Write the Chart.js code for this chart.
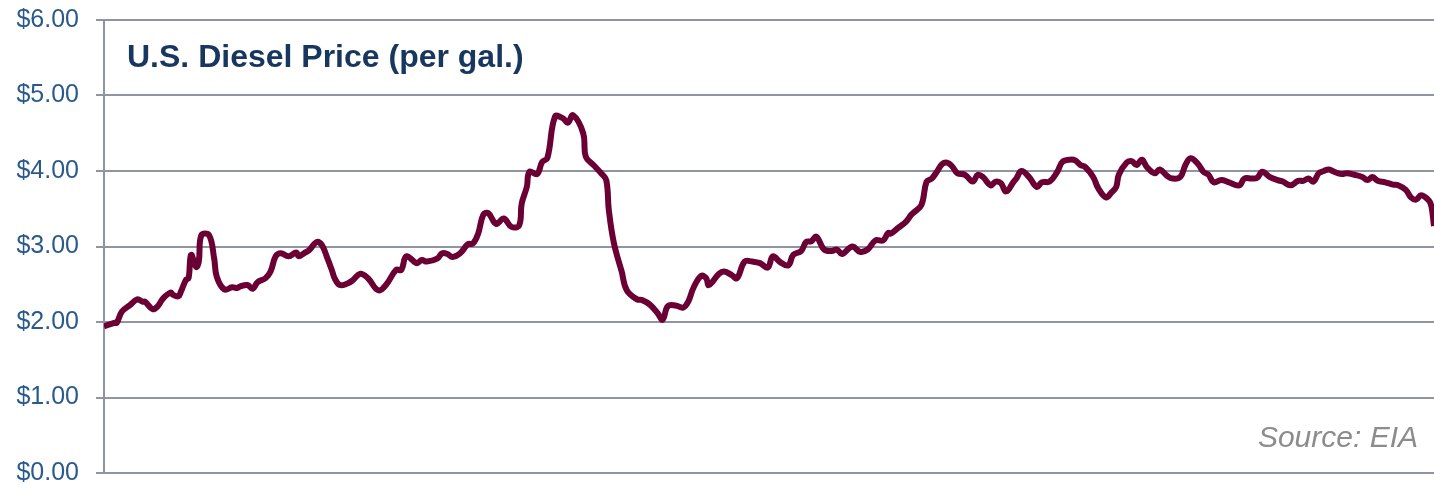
<!DOCTYPE html>
<html lang="en">
<head>
    <meta charset="UTF-8">
    <title>U.S. Diesel Price</title>
    <style>
        html, body { margin: 0; padding: 0; background: #fff; }
    </style>
</head>
<body>
    <canvas id="chartId" width="1434" height="488"></canvas>
    <script src="https://cdn.jsdelivr.net/npm/chart.js@4/dist/chart.umd.min.js"></script>
    <script>
        // weeks since the first week of Jan 2005
        const weeks = [
            0, 4, 5, 7, 10, 13, 15, 16, 19, 21,
            23, 26, 27, 29, 30, 32, 33, 34, 36, 37,
            38, 41, 43, 44, 47, 50, 52, 53, 56, 58,
            60, 63, 65, 67, 69, 72, 75, 76, 78, 80,
            83, 85, 87, 89, 90, 92, 95, 97, 100, 103,
            107, 110, 114, 116, 118, 122, 124, 126, 130, 132,
            134, 136, 139, 142, 144, 146, 148, 150, 153, 156,
            159, 162, 163, 165, 166, 169, 171, 173, 176, 179,
            181, 183, 187, 188, 191, 194, 196, 197, 199, 202,
            204, 208, 210, 213, 216, 218, 220, 223, 226, 228,
            230, 233, 235, 236, 240, 242, 245, 247, 250, 253,
            256, 259, 261, 264, 267, 269, 272, 274, 276, 278,
            281, 284, 286, 288, 292, 295, 298, 301, 304, 306,
            307, 310, 313, 315, 316, 319, 321, 323, 325, 327,
            329, 331, 333, 336, 339, 341, 343, 346, 348, 350,
            352, 355, 356, 358, 361, 364, 366, 369, 372, 374,
            377, 379, 381, 383, 386, 388, 391, 393, 395, 396,
            399, 401, 403, 405, 407, 410, 412, 415, 417, 420,
            422, 424, 427, 429, 431, 433, 436, 439, 443, 445,
            448, 450, 452, 455, 458, 460, 463, 466, 468, 470,
            472, 474, 476, 478, 480, 483, 485, 488, 491, 493,
            495, 497, 500, 503, 505, 508, 510, 512, 514, 517,
            518, 519
        ];

        const prices = [
            1.94, 1.99, 1.99, 2.14, 2.22, 2.30, 2.27, 2.27, 2.17, 2.21,
            2.31, 2.39, 2.36, 2.34, 2.40, 2.56, 2.58, 2.89, 2.73, 2.80,
            3.15, 3.15, 2.84, 2.60, 2.43, 2.46, 2.45, 2.47, 2.49, 2.44,
            2.53, 2.58, 2.67, 2.87, 2.91, 2.87, 2.92, 2.87, 2.91, 2.95,
            3.06, 3.02, 2.86, 2.68, 2.58, 2.49, 2.51, 2.55, 2.64, 2.58,
            2.42, 2.49, 2.69, 2.69, 2.87, 2.78, 2.82, 2.80, 2.84, 2.91,
            2.90, 2.86, 2.91, 3.03, 3.04, 3.17, 3.42, 3.44, 3.30, 3.37,
            3.26, 3.28, 3.57, 3.79, 3.99, 3.96, 4.12, 4.17, 4.72, 4.70,
            4.64, 4.74, 4.50, 4.19, 4.08, 3.97, 3.88, 3.48, 3.04, 2.67,
            2.42, 2.30, 2.29, 2.23, 2.12, 2.03, 2.21, 2.22, 2.19, 2.27,
            2.45, 2.61, 2.58, 2.49, 2.64, 2.67, 2.62, 2.58, 2.80, 2.80,
            2.78, 2.72, 2.87, 2.79, 2.75, 2.89, 2.94, 3.06, 3.07, 3.13,
            2.96, 2.94, 2.96, 2.90, 3.00, 2.93, 2.96, 3.08, 3.08, 3.18,
            3.17, 3.25, 3.33, 3.42, 3.45, 3.55, 3.86, 3.90, 3.99, 4.09,
            4.11, 4.06, 3.97, 3.95, 3.86, 3.95, 3.92, 3.81, 3.86, 3.84,
            3.73, 3.86, 3.90, 4.00, 3.92, 3.79, 3.85, 3.86, 3.99, 4.12,
            4.15, 4.14, 4.08, 4.05, 3.92, 3.77, 3.65, 3.71, 3.79, 3.95,
            4.11, 4.13, 4.08, 4.15, 4.05, 3.97, 4.02, 3.93, 3.90, 3.92,
            4.08, 4.17, 4.09, 3.99, 3.95, 3.85, 3.88, 3.85, 3.81, 3.90,
            3.90, 3.91, 3.99, 3.92, 3.88, 3.86, 3.81, 3.87, 3.87, 3.90,
            3.86, 3.97, 4.00, 4.02, 3.99, 3.96, 3.97, 3.95, 3.92, 3.88,
            3.92, 3.87, 3.85, 3.82, 3.81, 3.75, 3.65, 3.62, 3.68, 3.61,
            3.53, 3.27
        ];

        const yTicks = [0, 1, 2, 3, 4, 5, 6];
        const chartTitle = 'U.S. Diesel Price (per gal.)';
        const sourceNote = 'Source: EIA';

        const gridGray = '#8f93a3';

        // title and source note sit inside the plot area
        const notesPlugin = {
            id: 'notes',
            afterDraw(chart) {
                const ctx = chart.ctx;
                const area = chart.chartArea;
                ctx.save();
                ctx.textBaseline = 'alphabetic';
                ctx.fillStyle = '#17375e';
                ctx.font = 'bold 32px "Liberation Sans", Arial, sans-serif';
                ctx.textAlign = 'left';
                ctx.fillText(chartTitle, area.left + 23, area.top + 47);
                ctx.fillStyle = '#8c8c8c';
                ctx.font = 'italic 30px "Liberation Sans", Arial, sans-serif';
                ctx.textAlign = 'right';
                ctx.fillText(sourceNote, area.right - 16, area.bottom - 26);
                ctx.restore();
            }
        };

        const ctx = document.getElementById('chartId').getContext('2d');

        const myChart = new Chart(ctx, {
            type: 'line',
            data: {
                datasets: [{
                    label: 'Diesel',
                    data: weeks.map((w, i) => ({ x: w, y: prices[i] })),
                    borderColor: '#6a0033',
                    borderWidth: 6,
                    pointRadius: 0,
                    tension: 0.4,
                    fill: false
                }]
            },
            options: {
                responsive: false,
                animation: false,
                layout: {
                    padding: { top: 20, bottom: 15, left: 0, right: 0 }
                },
                plugins: {
                    legend: { display: false },
                    tooltip: { enabled: false }
                },
                scales: {
                    x: {
                        type: 'linear',
                        min: 0,
                        max: weeks[weeks.length - 1],
                        display: false
                    },
                    y: {
                        min: 0,
                        max: 6,
                        afterFit(scale) {
                            scale.width = 104;
                            scale.paddingTop = 0;
                            scale.paddingBottom = 0;
                        },
                        afterBuildTicks(scale) {
                            scale.ticks = yTicks.map(v => ({ value: v }));
                        },
                        ticks: {
                            padding: 17,
                            color: '#2a5a8c',
                            font: { family: '"Liberation Sans", Arial, sans-serif', size: 25 },
                            callback: v => '$' + Number(v).toFixed(2)
                        },
                        grid: {
                            color: gridGray,
                            lineWidth: 2,
                            tickLength: 8
                        },
                        border: {
                            display: true,
                            color: gridGray,
                            width: 2
                        }
                    }
                }
            },
            plugins: [notesPlugin]
        });
    </script>
</body>
</html>
